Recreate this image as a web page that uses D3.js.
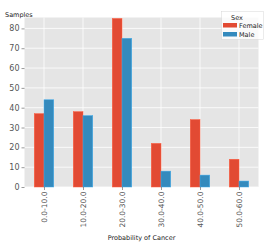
<!DOCTYPE html>
<html>
<head>
<meta charset="utf-8">
<script src="https://cdn.jsdelivr.net/npm/d3@7"></script>
<style>
  body { margin: 0; background: #fff; }
  text { font-family: "DejaVu Sans", sans-serif; }
</style>
</head>
<body>
<div id="chart"></div>
<script>
const categories = ["0.0-10.0", "10.0-20.0", "20.0-30.0", "30.0-40.0", "40.0-50.0", "50.0-60.0"];
const female = [37, 38, 85, 22, 34, 14];
const male = [44, 36, 75, 8, 6, 3];
const series = ["Female", "Male"];
const yTicks = [0, 10, 20, 30, 40, 50, 60, 70, 80];

const width = 267, height = 242;
const margin = { left: 24.5, right: 8.5, top: 17.5, bottom: 55 };
const colors = { Female: "#E24A33", Male: "#348ABD" };

const svg = d3.select("#chart").append("svg")
    .attr("width", width)
    .attr("height", height);

// bar positions: category i sits at integer i, xlim -0.5..5.5
const x = d3.scaleLinear()
    .domain([-0.5, categories.length - 0.5])
    .range([margin.left, width - margin.right]);

const y = d3.scaleLinear()
    .domain([0, 85.5])
    .range([height - margin.bottom, margin.top]);

// plot background
svg.append("rect")
    .attr("x", x(-0.5))
    .attr("y", y(85.5))
    .attr("width", x(5.5) - x(-0.5))
    .attr("height", y(0) - y(85.5))
    .attr("fill", "#E5E5E5");

// grid
svg.append("g").selectAll("line")
    .data(yTicks)
    .join("line")
    .attr("x1", x(-0.5)).attr("x2", x(5.5))
    .attr("y1", d => y(d)).attr("y2", d => y(d))
    .attr("stroke", "#fff").attr("stroke-width", 0.8);

svg.append("g").selectAll("line")
    .data(categories.map((c, i) => i))
    .join("line")
    .attr("x1", d => x(d)).attr("x2", d => x(d))
    .attr("y1", y(0)).attr("y2", y(85.5))
    .attr("stroke", "#fff").attr("stroke-width", 0.8);

// bars
const barW = 0.25;
const rows = categories.map((c, i) => ({ i, Female: female[i], Male: male[i] }));
series.forEach((s, k) => {
    svg.append("g").selectAll("rect")
        .data(rows)
        .join("rect")
        .attr("x", d => x(d.i - barW + k * barW))
        .attr("y", d => y(Math.min(d[s], 85.5)))
        .attr("width", x(barW) - x(0))
        .attr("height", d => y(0) - y(Math.min(d[s], 85.5)))
        .attr("fill", colors[s])
        .attr("stroke", d3.color(colors[s]).brighter(0.6))
        .attr("stroke-width", 0.5);
});

// y axis
const yAxis = d3.axisLeft(y).tickValues(yTicks).tickSize(3).tickPadding(2);
const gy = svg.append("g")
    .attr("transform", `translate(${x(-0.5)},0)`)
    .call(yAxis);
gy.select(".domain").remove();
gy.selectAll("line").attr("stroke", "#555").attr("stroke-width", 0.6);
gy.selectAll("text")
    .attr("fill", "#555")
    .style("font-size", "8px");

// x axis
const xAxis = d3.axisBottom(x).tickValues(categories.map((c, i) => i))
    .tickFormat(i => categories[i]).tickSize(3).tickPadding(2);
const gx = svg.append("g")
    .attr("transform", `translate(0,${y(0)})`)
    .call(xAxis);
gx.select(".domain").remove();
gx.selectAll("line").attr("stroke", "#555").attr("stroke-width", 0.6);
gx.selectAll("text")
    .attr("fill", "#555")
    .style("font-size", "7.5px")
    .attr("text-anchor", "end")
    .attr("transform", "rotate(-90)")
    .attr("x", -4.5)
    .attr("y", 0)
    .attr("dy", "0.35em");

// axis labels
svg.append("text")
    .attr("x", (x(-0.5) + x(5.5)) / 2)
    .attr("y", 240)
    .attr("text-anchor", "middle")
    .attr("fill", "#222")
    .style("font-size", "6.5px")
    .text("Probability of Cancer");

svg.append("text")
    .attr("x", 5)
    .attr("y", 16.5)
    .attr("fill", "#222")
    .style("font-size", "6.5px")
    .text("Samples");

// legend
const lg = svg.append("g");
lg.append("rect")
    .attr("x", 221.5).attr("y", 11.5)
    .attr("width", 42).attr("height", 28)
    .attr("fill", "#fff").attr("fill-opacity", 0.8)
    .attr("stroke", "#ccc").attr("stroke-opacity", 0.8).attr("stroke-width", 0.5);
lg.append("text")
    .attr("x", 237).attr("y", 19.5)
    .attr("text-anchor", "middle")
    .attr("fill", "#222")
    .style("font-size", "6.5px")
    .text("Sex");
series.forEach((s, k) => {
    lg.append("rect")
        .attr("x", 223).attr("y", 23 + k * 9)
        .attr("width", 14).attr("height", 4.5)
        .attr("fill", colors[s]);
    lg.append("text")
        .attr("x", 239).attr("y", 27.5 + k * 9)
        .attr("fill", "#222")
        .style("font-size", "6.5px")
        .text(s);
});
</script>
</body>
</html>
